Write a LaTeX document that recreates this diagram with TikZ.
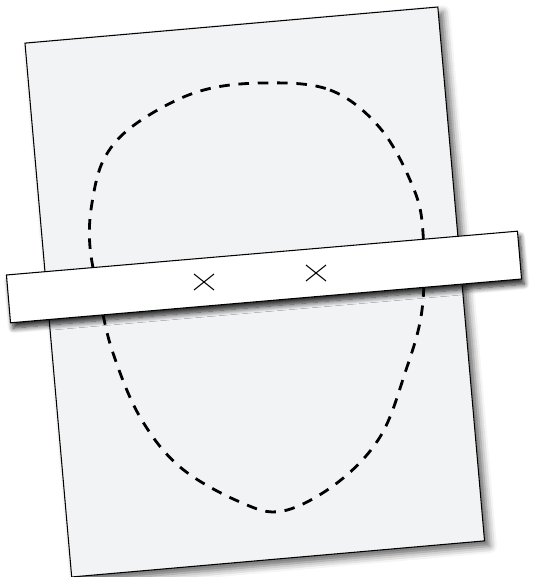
\documentclass[tikz,border=0pt]{standalone}
\usepackage{tikz}
\usetikzlibrary{shadows.blur}
\definecolor{sheetgray}{RGB}{242,243,245}

\begin{document}
\begin{tikzpicture}[
          x=0.02cm, y=-0.02cm,
          sheet/.style={
              draw=black,
              fill=sheetgray,
              line width=0.6pt,
              minimum width=8.29cm,
              minimum height=10.72cm,
              blur shadow={shadow xshift=3pt, shadow yshift=-3pt,
                shadow blur radius=4pt, shadow opacity=60}
            },
          strip/.style={
              draw=black,
              fill=white,
              line width=0.6pt,
              minimum width=10.26cm,
              minimum height=0.96cm,
              blur shadow={shadow xshift=1.5pt, shadow yshift=-3pt,
                shadow blur radius=3pt, shadow blur steps=8, shadow opacity=85}
            },
          outline/.style={dash pattern=on 6pt off 5pt, line width=1.6pt},
          cross/.style={line width=0.6pt}
        ]
        \useasboundingbox (0,0) rectangle (532,577);

        \node[sheet, rotate=5] (paper) at (254.75,292) {};

        \draw[outline] plot[smooth cycle, tension=0.6] coordinates {
            (262,83) (330,90) (380,128) (413,187) (423,233) (422,310)
            (405,373) (380,437) (337,483) (283,511) (240,502) (180,467)
            (140,417) (113,353) (100,300) (90,247) (92,203) (105,157)
            (137,123) (197,92)};

        \node[strip, rotate=4.9] (ruler) at (264,277) {};

        \coordinate (markA) at (204,282);
        \coordinate (markB) at (316,273);
        \draw[cross] (markA) ++(-10,-8) -- ++(20,16);
        \draw[cross] (markA) ++(-10,8) -- ++(20,-16);
        \draw[cross] (markB) ++(-10,-8) -- ++(20,16);
        \draw[cross] (markB) ++(-10,8) -- ++(20,-16);
      \end{tikzpicture}
\end{document}
